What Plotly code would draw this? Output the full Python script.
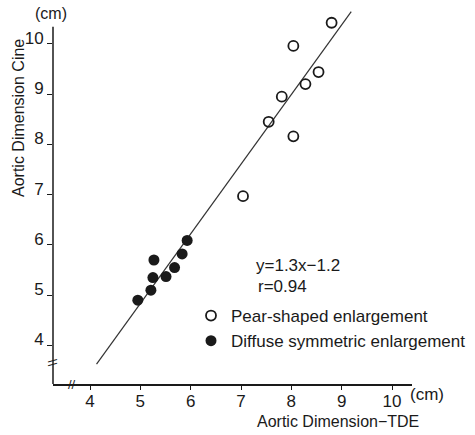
import plotly.graph_objects as go

# ---- data ----
pear_x = [8.80, 8.04, 8.54, 8.28, 7.81, 7.55, 8.04, 7.04]
pear_y = [10.42, 9.96, 9.44, 9.20, 8.95, 8.45, 8.16, 6.97]

diffuse_x = [4.95, 5.21, 5.25, 5.27, 5.51, 5.68, 5.83, 5.93]
diffuse_y = [4.90, 5.10, 5.35, 5.70, 5.37, 5.55, 5.82, 6.09]

line_x = [4.13, 9.19]
line_y = [3.63, 10.64]

x_ticks = [4, 5, 6, 7, 8, 9, 10]
y_ticks = [4, 5, 6, 7, 8, 9, 10]
x_tick_labels = ["4", "5", "6", "7", "8", "9", "10"]
y_tick_labels = ["4", "5", "6", "7", "8", "9", "10"]

x_break = 3.64
y_break = 3.65
y_axis_top = 10.34

legend_names = ["Pear-shaped enlargement", "Diffuse symmetric enlargement"]
equation_lines = ["y=1.3x\u22121.2", "r=0.94"]
x_title = "Aortic Dimension\u2212TDE"
y_title = "Aortic Dimension Cine"
unit_text = "(cm)"

FONT = "Liberation Sans, Arial, sans-serif"
INK = "#1a1a1a"

X_RANGE = [3.265, 10.397]
Y_RANGE = [3.233, 10.694]

fig = go.Figure()

fig.add_trace(go.Scatter(
    x=line_x, y=line_y, mode="lines",
    line=dict(color="#333333", width=1.2),
    showlegend=False, hoverinfo="skip",
))
fig.add_trace(go.Scatter(
    x=pear_x, y=pear_y, mode="markers", name=legend_names[0],
    marker=dict(symbol="circle-open", size=10, color=INK, line=dict(width=1.8, color=INK)),
))
fig.add_trace(go.Scatter(
    x=diffuse_x, y=diffuse_y, mode="markers", name=legend_names[1],
    marker=dict(symbol="circle", size=11, color=INK, line=dict(width=0)),
))

axis_common = dict(
    showgrid=False, zeroline=False,
    ticks="outside", tickwidth=1.2, tickcolor=INK,
    tickfont=dict(family=FONT, size=17, color=INK),
    tickmode="array",
)

fig.update_xaxes(**axis_common, range=X_RANGE, showline=True, linecolor=INK, linewidth=1.5,
                 ticklen=4, tickvals=x_ticks, ticktext=x_tick_labels,
                 ticklabelstandoff=-3)
fig.update_yaxes(**axis_common, range=Y_RANGE, showline=False, ticklen=5,
                 tickvals=y_ticks, ticktext=y_tick_labels,
                 ticklabelshift=-6, ticklabelstandoff=0)

# y-axis spine only up to just above the 10 tick, as in the reference
shapes = [
    dict(type="line", xref="paper", yref="y", x0=0, x1=0,
         y0=Y_RANGE[0], y1=y_axis_top, line=dict(color=INK, width=1.5)),
]

def txt(text, x, y, size, xanchor="center", yanchor="middle", **kw):
    return dict(text=text, xref="paper", yref="paper", x=x, y=y, showarrow=False,
                xanchor=xanchor, yanchor=yanchor,
                font=dict(family=FONT, size=size, color=INK), **kw)

annotations = [
    txt(y_title, -0.0975, 0.7093, 16, textangle=-90),
    txt(x_title, 0.7925, -0.1013, 16),
    txt(unit_text, -0.0056, 0.9893, 16),
    txt(unit_text, 1.043, -0.0293, 17),
    txt(equation_lines[0], 0.5599, 0.315, 17, xanchor="left"),
    txt(equation_lines[1], 0.5655, 0.261, 17, xanchor="left"),
    dict(text="\\\\", xref="paper", yref="y", x=0, y=y_break, textangle=90,
         xanchor="center", yanchor="middle",
         showarrow=False, font=dict(family=FONT, size=13, color=INK)),
    dict(text="//", xref="x", yref="paper", x=x_break, y=0,
         xanchor="center", yanchor="middle",
         showarrow=False, font=dict(family=FONT, size=13, color=INK)),
]

fig.update_layout(
    width=475, height=435,
    margin=dict(l=53, r=63, t=9, b=51, autoexpand=False),
    plot_bgcolor="white", paper_bgcolor="white",
    font=dict(family=FONT, color=INK),
    annotations=annotations,
    shapes=shapes,
    legend=dict(x=0.3844, y=0.2294, xanchor="left", yanchor="top",
                bgcolor="rgba(0,0,0,0)", font=dict(family=FONT, size=17, color=INK),
                itemwidth=30),
    showlegend=True,
)

fig.write_html(
    "out.html",
    config={"displayModeBar": False},
    post_script="document.body.style.margin='0';document.body.style.overflow='hidden';",
)
